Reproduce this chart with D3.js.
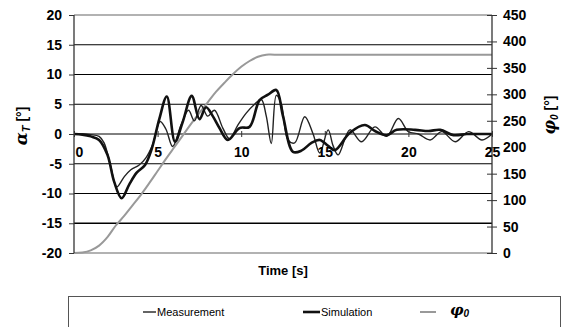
<html> <head>
<script src="https://d3js.org/d3.v7.min.js"></script>
<style>
  body { margin: 0; background: #fff; }
  text { font-family: "Liberation Sans", Arial, sans-serif; }
</style>
</head>
<body>
<div id="chart"></div>
<script>

// data
const measT = [0, 0.5, 1.0, 1.5, 1.8, 2.2, 2.55, 3.0, 3.4, 3.9, 4.3, 4.7, 5.15, 5.5, 5.9, 6.4, 6.85, 7.2, 7.6, 8.0, 8.4, 8.9, 9.3, 9.8, 10.3, 10.8, 11.2, 11.5, 11.8, 12.1, 12.4, 12.8, 13.2, 13.8, 14.3, 14.7, 15.2, 15.5, 15.8, 16.5, 17.2, 18.0, 18.7, 19.4, 20.0, 20.6, 21.3, 22.0, 22.8, 23.6, 24.4, 25];
const measV = [0, 0, -0.1, -0.4, -1.5, -5.5, -8.9, -7.2, -6.0, -5.2, -4.0, -1.8, 2.1, 0.8, -2.1, 1.5, 4.0, 2.2, 4.8, 3.0, 4.0, 1.0, -0.8, 1.5, 3.5, 5.0, 5.8, 3.0, -1.6, 6.5, 5.0, -1.0, -1.5, 2.9, 0, -3.2, 0.7, -2.0, -3.5, 0.7, -1.3, 1.2, -0.4, 2.6, 0.4, 0, -1.0, 0.4, -1.3, 0.4, -1.0, 0];

const simT = [0, 0.5, 1.0, 1.5, 2.0, 2.4, 2.85, 3.3, 3.75, 4.25, 4.65, 5.1, 5.55, 6.04, 6.5, 7.04, 7.5, 7.9, 8.3, 8.7, 9.2, 9.9, 10.5, 11.1, 11.6, 12.1, 12.5, 13.1, 13.6, 14.2, 14.7, 15.2, 15.6, 16.5, 17.4, 18.0, 18.7, 19.3, 20.4, 21.2, 21.9, 22.7, 23.5, 24.2, 25];
const simV = [0, -0.1, -0.4, -1.0, -3.5, -8.0, -10.8, -8.5, -6.5, -5.2, -2.5, 2.5, 6.3, -1.3, 2.0, 6.4, 2.5, 4.5, 3.0, 1.0, -1.0, 1.0, 1.2, 5.7, 6.6, 7.4, 3.0, -3.0, -2.8, -1.5, -1.0, -2.0, -2.7, 0.2, 1.5, 0.5, -0.2, 0.7, 0.7, 0.5, 0.7, -0.2, 0, 0, 0];

const phiT = [0, 0.5, 1, 1.5, 2, 2.5, 3, 3.5, 4, 4.5, 5, 5.5, 6, 6.5, 7, 7.5, 8, 8.5, 9, 9.5, 10, 10.5, 11, 11.5, 12, 25];
const phiV = [0, 1, 5, 14, 30, 52, 70, 90, 110, 132, 155, 178, 200, 222, 244, 265, 285, 305, 322, 338, 352, 363, 371, 375, 375, 375];

const xTicks = [0, 5, 10, 15, 20, 25];
const yTicks = [-20, -15, -10, -5, 0, 5, 10, 15, 20];
const y2Ticks = [0, 50, 100, 150, 200, 250, 300, 350, 400, 450];
const legendLabels = ['Measurement', 'Simulation', 'φ0'];

// layout
const W = 565, H = 327;
const plot = {left: 74, right: 492, top: 15, bottom: 253};

const svg = d3.select('#chart').append('svg')
  .attr('width', W).attr('height', H);

const x = d3.scaleLinear().domain([0, 25]).range([plot.left, plot.right]);
const y = d3.scaleLinear().domain([-20, 20]).range([plot.bottom, plot.top]);
const y2 = d3.scaleLinear().domain([0, 450]).range([plot.bottom, plot.top]);

// gridlines
svg.append('g').selectAll('line')
  .data(yTicks.filter(d => d > -20 && d < 20))
  .enter().append('line')
  .attr('x1', plot.left).attr('x2', plot.right)
  .attr('y1', d => y(d)).attr('y2', d => y(d))
  .style('stroke', '#000')
  .style('stroke-width', d => d === -15 ? 1.6 : 1);

// gray plot border top/bottom
[20, -20].forEach(v => {
  svg.append('line')
    .attr('x1', plot.left).attr('x2', plot.right)
    .attr('y1', y(v)).attr('y2', y(v))
    .style('stroke', '#999').style('stroke-width', 1.5);
});

// lines
const lineOf = (xs, ys, sy) => d3.line()
  .x((d, i) => x(xs[i]))
  .y(d => sy(d))
  .curve(d3.curveCatmullRom.alpha(0.5))(ys);

svg.append('path').attr('d', lineOf(phiT, phiV, y2))
  .style('fill', 'none').style('stroke', '#999').style('stroke-width', 2);
svg.append('path').attr('d', lineOf(measT, measV, y))
  .style('fill', 'none').style('stroke', '#222').style('stroke-width', 1.4);
svg.append('path').attr('d', lineOf(simT, simV, y))
  .style('fill', 'none').style('stroke', '#111').style('stroke-width', 2.6);

// axes (plain hyphen for negatives, as in the picture)
const fmt = d => String(d);
const gl = svg.append('g').attr('transform', `translate(${plot.left},0)`)
  .call(d3.axisLeft(y).tickValues(yTicks).tickFormat(fmt).tickSize(5).tickPadding(7));
const gr = svg.append('g').attr('transform', `translate(${plot.right},0)`)
  .call(d3.axisRight(y2).tickValues(y2Ticks).tickFormat(fmt).tickSize(5).tickPadding(6));
gr.selectAll('.tick line').attr('x1', -5);
const gx = svg.append('g').attr('transform', `translate(0,${y(0)})`)
  .call(d3.axisBottom(x).tickValues(xTicks).tickFormat(fmt).tickSize(3).tickPadding(10));
gx.selectAll('.tick line').attr('y1', -3);
gx.select('.domain').remove();
gx.selectAll('.tick').filter(d => d === 0).select('text').attr('dx', 5);

[gl, gr, gx].forEach(g => {
  g.selectAll('.domain').style('stroke', '#333').style('stroke-width', 1.3);
  g.selectAll('.tick line').style('stroke', '#333');
  g.selectAll('text')
    .style('font-family', '"Liberation Sans", Arial, sans-serif')
    .style('font-size', '14px').style('font-weight', 'bold').style('fill', '#000');
});
gl.select('.domain').attr('d', `M-0,${plot.top}V${plot.bottom}`);
gr.select('.domain').attr('d', `M0,${plot.top}V${plot.bottom}`);

// axis titles
svg.append('text')
  .attr('transform', `translate(${(plot.left + plot.right) / 2}, 275)`)
  .attr('text-anchor', 'middle')
  .style('font-size', '13px').style('font-weight', 'bold')
  .text('Time [s]');

const lt = svg.append('text')
  .attr('transform', 'translate(27, 126) rotate(-90)')
  .attr('text-anchor', 'middle')
  .style('font-size', '14px').style('font-weight', 'bold');
lt.append('tspan').text('α').style('font-style', 'italic')
  .style('font-family', '"DejaVu Serif", serif').style('font-size', '17px');
lt.append('tspan').text('T').attr('dy', 3).style('font-size', '11px').style('font-style', 'italic');
lt.append('tspan').text(' [°]').attr('dy', -3);

const rt = svg.append('text')
  .attr('transform', 'translate(555, 115) rotate(-90)')
  .attr('text-anchor', 'middle')
  .style('font-size', '14px').style('font-weight', 'bold');
rt.append('tspan').text('φ').style('font-style', 'italic')
  .style('font-family', '"DejaVu Serif", serif').style('font-size', '16px');
rt.append('tspan').text('0').attr('dy', 3).style('font-size', '10px').style('font-style', 'italic');
rt.append('tspan').text(' [°]').attr('dy', -3);

// legend
svg.append('rect')
  .attr('x', 68.5).attr('y', 296.5).attr('width', 492).attr('height', 40)
  .style('fill', '#fff').style('stroke', '#555').style('stroke-width', 1);

const legendItems = [
  {x: 143, w: 13, color: '#222', sw: 1.4},
  {x: 303, w: 17, color: '#111', sw: 2.6},
  {x: 420, w: 16, color: '#999', sw: 2}
];
legendItems.forEach((it, i) => {
  svg.append('line')
    .attr('x1', it.x).attr('x2', it.x + it.w)
    .attr('y1', 312).attr('y2', 312)
    .style('stroke', it.color).style('stroke-width', it.sw);
  if (i < 2) {
    svg.append('text')
      .attr('x', it.x + it.w + 1).attr('y', 316)
      .style('font-size', '11px')
      .text(legendLabels[i]);
  } else {
    const t = svg.append('text')
      .attr('x', it.x + it.w + 14).attr('y', 315)
      .style('font-size', '15px').style('font-weight', 'bold');
    t.append('tspan').text(legendLabels[i][0]).style('font-style', 'italic')
      .style('font-family', '"DejaVu Serif", serif');
    t.append('tspan').text(legendLabels[i][1]).attr('dy', 2)
      .style('font-size', '10px').style('font-style', 'italic');
  }
});

</script> </body></html>
